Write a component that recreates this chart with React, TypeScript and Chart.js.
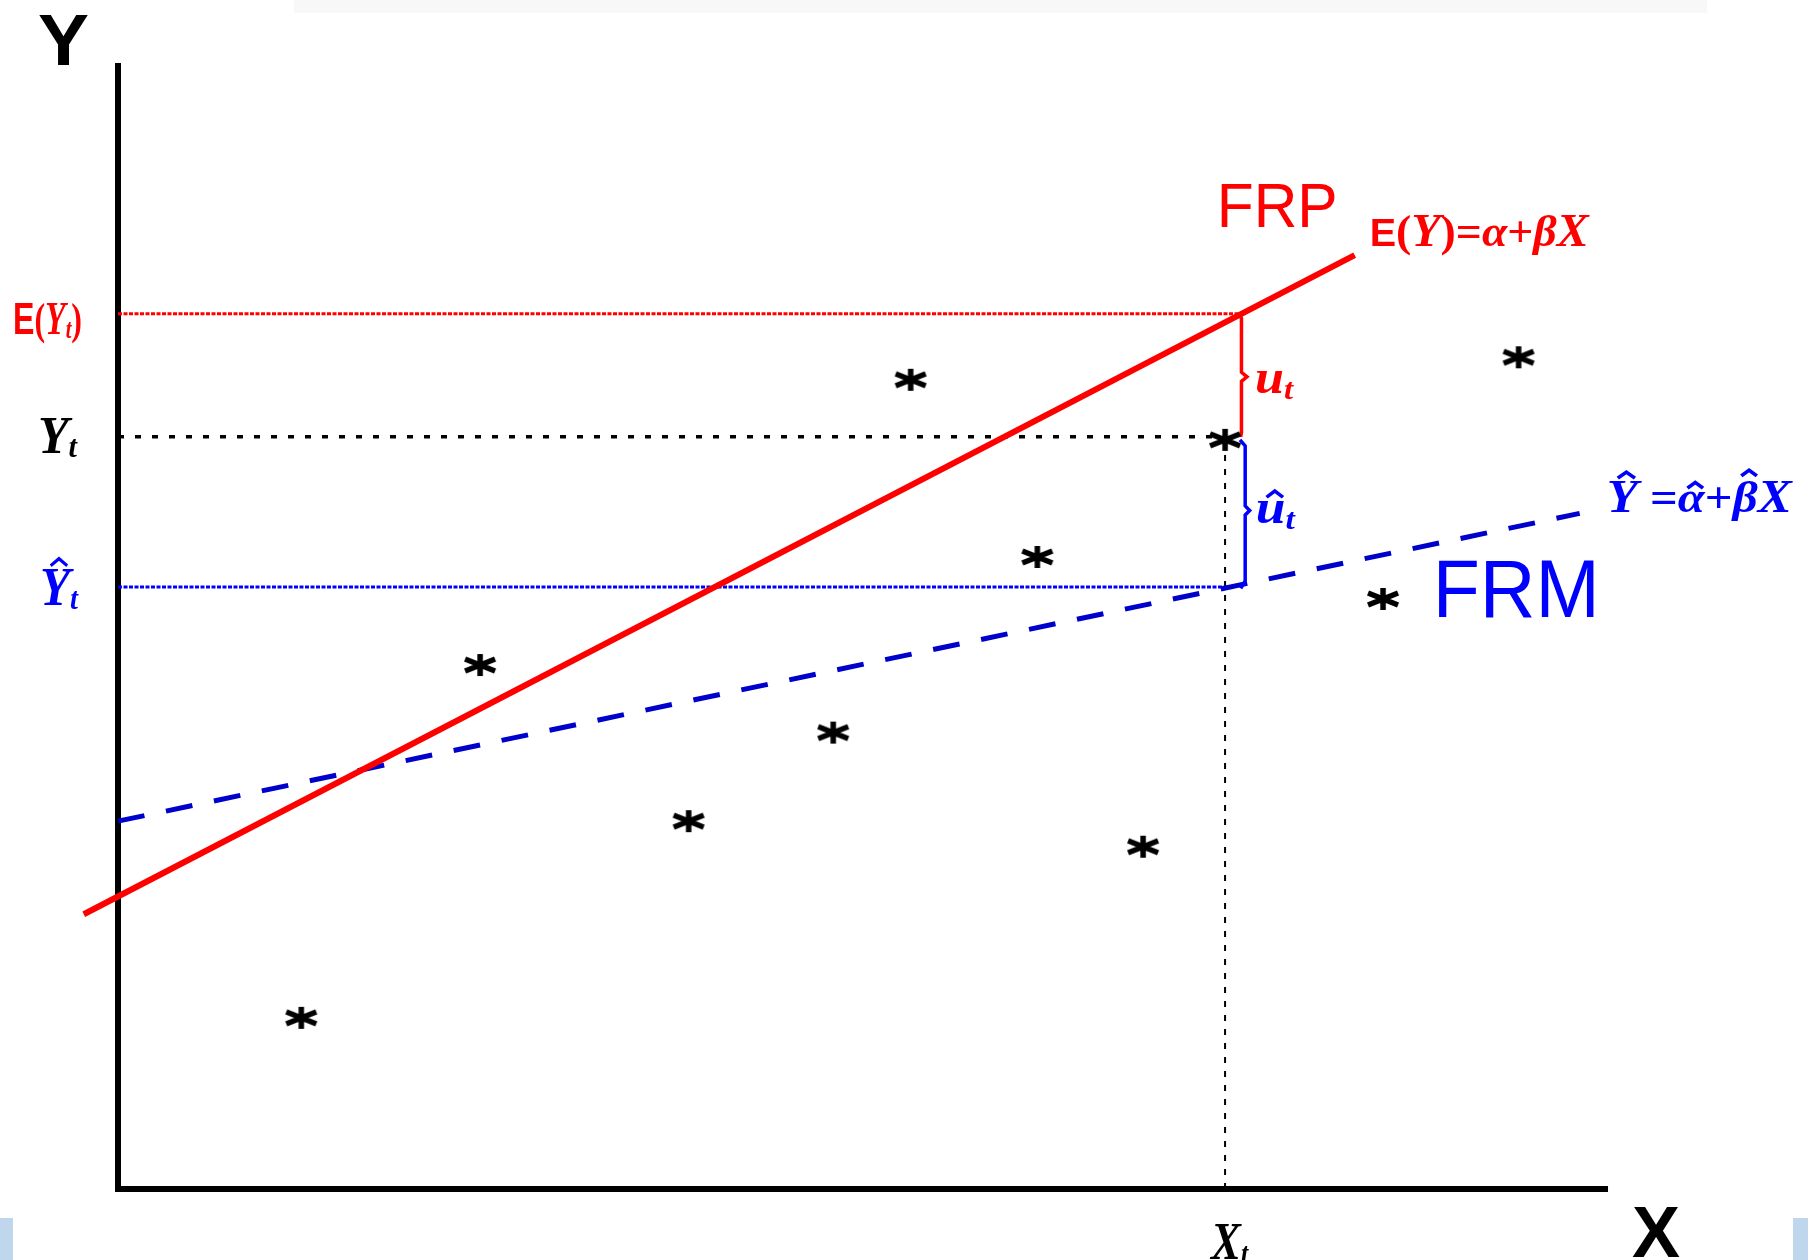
import React, { useEffect, useRef } from "react";
import { Chart, registerables } from "chart.js";

Chart.register(...registerables);

const W = 1808;
const H = 1260;

// ---- data (conceptual units) ----
// observed points (*)
const obsX = [1.23, 2.43, 3.83, 4.80, 5.32, 6.17, 6.88, 7.43, 8.49, 9.40];
const obsY = [1.14, 3.49, 2.45, 3.04, 5.39, 4.21, 2.28, 4.99, 3.93, 5.54];

// population regression line FRP: E(Y)=α+βX (endpoints)
const frpX = [-0.23, 8.30];
const frpY = [1.83, 6.22];

// sample regression line FRM: Ŷ=α̂+β̂X (endpoints)
const frmX = [0, 9.81];
const frmY = [2.45, 4.50];

// highlighted observation t
const xT = 7.43;
const eYt = 5.83;
const yT = 5.01;
const yHatT = 4.01;

// reference-line extents
const eYtLineX = [0, 7.53];
const yTLineX = [0, 7.43];
const yHatLineX = [0, 7.45];

// residual braces
const uBraceX = [7.52, 7.54, 7.54, 7.577, 7.54, 7.54, 7.535];
const uBraceY = [5.83, 5.80, 5.44, 5.41, 5.38, 5.04, 5.01];
const uHatBraceX = [7.53, 7.565, 7.565, 7.595, 7.565, 7.565, 7.535];
const uHatBraceY = [4.99, 4.95, 4.55, 4.52, 4.49, 4.05, 4.00];

// axes
const axisXRange = [0, 9.98];
const axisYRange = [0, 7.48];

const mk = (xs: number[], ys: number[]) => xs.map((x, i) => ({ x, y: ys[i] }));

const SERIF = '"Liberation Serif", "Times New Roman", serif';
const SANS = '"Liberation Sans", Arial, sans-serif';
const bi = (s: number) => `italic bold ${s}px ${SERIF}`;
const b = (s: number) => `bold ${s}px ${SERIF}`;
const sansB = (s: number) => `bold ${s}px ${SANS}`;
const sans = (s: number) => `${s}px ${SANS}`;

type Run = { t: string; font: string; dy?: number; hat?: number; size?: number };

function drawRuns(
  ctx: CanvasRenderingContext2D,
  runs: Run[],
  left: number,
  baseline: number,
  color: string,
  width: number
) {
  ctx.save();
  ctx.fillStyle = color;
  ctx.strokeStyle = color;
  ctx.textBaseline = "alphabetic";
  ctx.textAlign = "left";
  const ws = runs.map((r) => {
    ctx.font = r.font;
    return ctx.measureText(r.t).width;
  });
  const total = ws.reduce((a, c) => a + c, 0);
  const sx = width / total;
  ctx.translate(left, baseline);
  ctx.scale(sx, 1);
  let cx = 0;
  runs.forEach((r, i) => {
    ctx.font = r.font;
    ctx.fillText(r.t, cx, r.dy || 0);
    if (r.hat) {
      const s = r.size || 46;
      const top = -r.hat * s - 4;
      const hw = Math.max(ws[i] * 0.55, 14);
      const mid = cx + ws[i] * 0.5 + s * 0.08;
      const hh = s * 0.13;
      ctx.lineWidth = 3.4;
      ctx.beginPath();
      ctx.moveTo(mid - hw / 2, top);
      ctx.lineTo(mid, top - hh);
      ctx.lineTo(mid + hw / 2, top);
      ctx.stroke();
    }
    cx += ws[i];
  });
  ctx.restore();
}

function makeStar(): HTMLCanvasElement {
  const c = document.createElement("canvas");
  c.width = 36;
  c.height = 28;
  const g = c.getContext("2d")!;
  g.strokeStyle = "#000";
  g.fillStyle = "#000";
  g.lineWidth = 5.5;
  const cx = 18;
  const cy = 14;
  g.beginPath();
  g.moveTo(cx, cy - 11);
  g.lineTo(cx, cy + 11);
  g.moveTo(cx - 15, cy - 6);
  g.lineTo(cx + 15, cy + 6);
  g.moveTo(cx - 15, cy + 6);
  g.lineTo(cx + 15, cy - 6);
  g.stroke();
  return c;
}

const RED = "#ff0000";
const BLUE = "#0000ff";
const DBLUE = "#0000cc";

const labelPlugin = {
  id: "labels",
  beforeDraw(chart: any) {
    const ctx = chart.ctx as CanvasRenderingContext2D;
    ctx.save();
    ctx.fillStyle = "#ffffff";
    ctx.fillRect(0, 0, W, H);
    ctx.fillStyle = "#f8f8f8";
    ctx.fillRect(294, 0, 1413, 13);
    ctx.fillStyle = "#bfd7ec";
    ctx.fillRect(0, 1218, 13, 42);
    ctx.fillRect(1793, 1218, 15, 42);
    ctx.restore();
  },
  afterDatasetsDraw(chart: any) {
    const ctx = chart.ctx as CanvasRenderingContext2D;
    const sx = chart.scales.x;
    const sy = chart.scales.y;
    const px = (v: number) => sx.getPixelForValue(v);
    const py = (v: number) => sy.getPixelForValue(v);
    const left = chart.chartArea.left;

    // axis titles
    drawRuns(ctx, [{ t: "Y", font: sansB(72) }], left - 80, py(axisYRange[1]) - 1, "#000", 51);
    drawRuns(ctx, [{ t: "X", font: sansB(72) }], px(axisXRange[1]) + 27, py(0) + 68, "#000", 48);

    // left level labels
    drawRuns(
      ctx,
      [
        { t: "E", font: sansB(44) },
        { t: "(", font: b(44) },
        { t: "Y", font: bi(46) },
        { t: "t", font: bi(28), dy: 4 },
        { t: ")", font: b(44) },
      ],
      left - 105,
      py(eYt) + 20,
      RED,
      69
    );
    drawRuns(
      ctx,
      [
        { t: "Y", font: bi(53) },
        { t: "t", font: bi(32), dy: 4 },
      ],
      left - 80,
      py(yT) + 16,
      "#000",
      39
    );
    drawRuns(
      ctx,
      [
        { t: "Y", font: bi(55), hat: 0.64, size: 55 },
        { t: "t", font: bi(32), dy: 4 },
      ],
      left - 78,
      py(yHatT) + 18,
      BLUE,
      38
    );

    // FRP labels
    const ex = px(frpX[1]);
    const ey = py(frpY[1]);
    drawRuns(ctx, [{ t: "FRP", font: sans(63) }], ex - 138, ey - 28, RED, 121);
    drawRuns(
      ctx,
      [
        { t: "E", font: sansB(38) },
        { t: "(", font: b(44) },
        { t: "Y", font: bi(46) },
        { t: ")", font: b(44) },
        { t: "=", font: b(44) },
        { t: "α", font: bi(44) },
        { t: "+", font: b(44) },
        { t: "β", font: bi(44) },
        { t: "X", font: bi(46) },
      ],
      ex + 15,
      ey - 9,
      RED,
      219
    );

    // residual labels
    drawRuns(
      ctx,
      [
        { t: "u", font: bi(48) },
        { t: "t", font: bi(30), dy: 6 },
      ],
      px(uBraceX[3]) + 8,
      py(uBraceY[3]) + 16,
      RED,
      38
    );
    drawRuns(
      ctx,
      [
        { t: "u", font: bi(48), hat: 0.46, size: 48 },
        { t: "t", font: bi(30), dy: 6 },
      ],
      px(uHatBraceX[3]) + 6,
      py(uHatBraceY[3]) + 13,
      BLUE,
      39
    );

    // FRM labels
    const fx = px(frmX[1]);
    const fy = py(frmY[1]);
    drawRuns(
      ctx,
      [
        { t: "Y", font: bi(46), hat: 0.66, size: 46 },
        { t: " =", font: b(44) },
        { t: "α", font: bi(44), hat: 0.46, size: 44 },
        { t: "+", font: b(44) },
        { t: "β", font: bi(44), hat: 0.74, size: 44 },
        { t: "X", font: bi(46) },
      ],
      fx + 27,
      fy - 1,
      BLUE,
      185
    );
    drawRuns(ctx, [{ t: "FRM", font: sans(82) }], fx - 147, fy + 104, BLUE, 167);

    // X_t label
    drawRuns(
      ctx,
      [
        { t: "X", font: bi(52) },
        { t: "t", font: bi(30), dy: 4 },
      ],
      px(xT) - 14,
      py(0) + 70,
      "#000",
      37
    );
  },
};

export default function App() {
  const ref = useRef<HTMLCanvasElement>(null);

  useEffect(() => {
    const canvas = ref.current!;
    const star = makeStar();
    const line = (data: any[], color: string, width: number, extra: any = {}) => ({
      data,
      showLine: true,
      borderColor: color,
      backgroundColor: color,
      borderWidth: width,
      pointRadius: 0,
      pointHoverRadius: 0,
      fill: false,
      tension: 0,
      clip: false,
      ...extra,
    });

    const chart = new Chart(canvas, {
      type: "scatter",
      data: {
        datasets: [
          {
            label: "obs",
            data: mk(obsX, obsY),
            pointStyle: star as any,
            pointRadius: 10,
            pointHoverRadius: 10,
            showLine: false,
            clip: false,
            order: 0,
          } as any,
          line(mk(uBraceX, uBraceY), RED, 3.5, { order: 1 }),
          line(mk(uHatBraceX, uHatBraceY), BLUE, 3.5, { order: 1 }),
          line(mk(frpX, frpY), RED, 6, { order: 2 }),
          line(mk(frmX, frmY), DBLUE, 5, { borderDash: [27, 22], order: 3 }),
          line(mk(eYtLineX, [eYt, eYt]), RED, 3, { borderDash: [4, 1.5], order: 4 }),
          line(mk(yTLineX, [yT, yT]), "#000", 3.5, { borderDash: [6, 11], order: 4 }),
          line(mk(yHatLineX, [yHatT, yHatT]), BLUE, 3, { borderDash: [4, 1.5], order: 4 }),
          line(mk([xT, xT], [0, yT]), "#000", 2, { borderDash: [6, 8], order: 4 }),
          line(mk(axisXRange, [0, 0]), "#000", 6, { borderCapStyle: "square", order: 5 }),
          line(mk([0, 0], axisYRange), "#000", 6, { borderCapStyle: "square", order: 5 }),
        ],
      },
      options: {
        responsive: false,
        maintainAspectRatio: false,
        animation: false,
        events: [],
        layout: { padding: { left: 118, right: 200, top: 63, bottom: 71 } },
        scales: {
          x: { type: "linear", min: 0, max: 10, display: false },
          y: { type: "linear", min: 0, max: 7.5, display: false },
        },
        plugins: {
          legend: { display: false },
          tooltip: { enabled: false },
        },
      },
      plugins: [labelPlugin],
    } as any);

    return () => chart.destroy();
  }, []);

  return (
    <div style={{ position: "absolute", left: 0, top: 0, width: W, height: H, background: "#fff" }}>
      <canvas ref={ref} width={W} height={H} style={{ display: "block", width: W, height: H }} />
    </div>
  );
}
